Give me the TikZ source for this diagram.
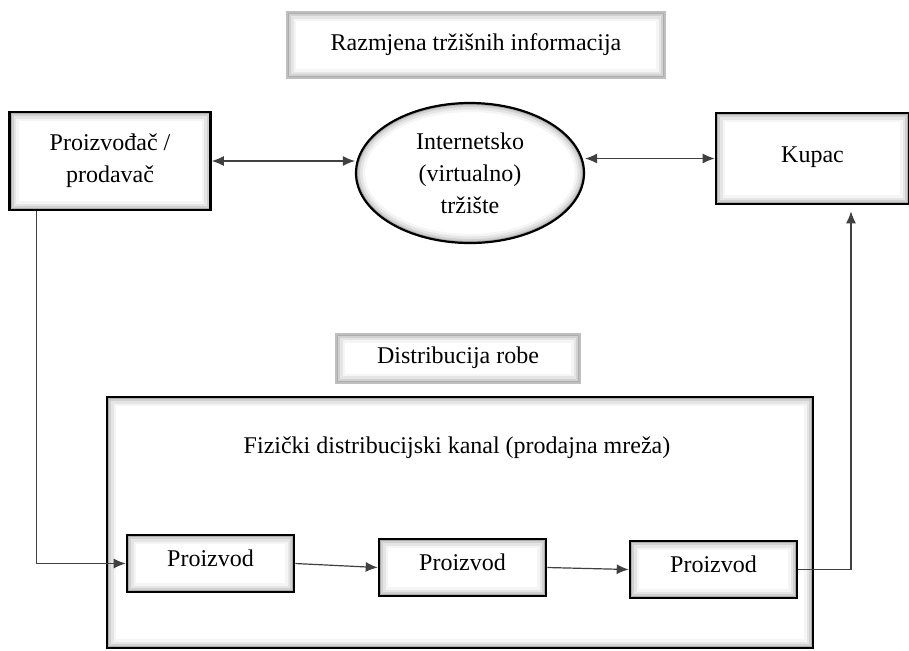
\documentclass[tikz,border=0pt]{standalone}
\usepackage{fontspec}
\setmainfont{Liberation Serif}
\usetikzlibrary{shapes.geometric,arrows.meta}

\tikzstyle{glow} = [path picture={
	\draw[black!4, line width=9pt] (path picture bounding box.south west) rectangle (path picture bounding box.north east);
	\draw[black!10, line width=6.5pt] (path picture bounding box.south west) rectangle (path picture bounding box.north east);
	\draw[black!18, line width=4pt] (path picture bounding box.south west) rectangle (path picture bounding box.north east);
	\draw[black!32, line width=2pt] (path picture bounding box.south west) rectangle (path picture bounding box.north east);
	}]
\tikzstyle{ovalglow} = [path picture={
	\draw[black!4, line width=9pt] (path picture bounding box.center) ellipse [x radius=57pt, y radius=35pt];
	\draw[black!10, line width=6.5pt] (path picture bounding box.center) ellipse [x radius=57pt, y radius=35pt];
	\draw[black!18, line width=4pt] (path picture bounding box.center) ellipse [x radius=57pt, y radius=35pt];
	\draw[black!32, line width=2pt] (path picture bounding box.center) ellipse [x radius=57pt, y radius=35pt];
	}]
\tikzstyle{box} = [rectangle, draw=black, line width=1.3pt, fill=white, glow, align=center]
\tikzstyle{tag} = [rectangle, draw=black!25, line width=1pt, fill=white, glow]
\tikzstyle{oval} = [ellipse, draw=black, line width=1.1pt, fill=white, ovalglow, align=center,
	minimum width=114pt, minimum height=70pt]
\tikzstyle{item} = [box, minimum width=83.5pt, minimum height=28.5pt, text depth=5pt]
\tikzstyle{link} = [draw=black!75, line width=0.6pt, -{Latex[length=6pt,width=5pt]}]
\tikzstyle{both} = [draw=black!75, line width=0.6pt, {Latex[length=6pt,width=5pt]}-{Latex[length=6pt,width=5pt]}]

\begin{document}
\begin{tikzpicture}[x=0.5pt, y=-0.5pt, font=\fontsize{12}{16}\selectfont]
\useasboundingbox (0,0) rectangle (909,650);

\node [tag, minimum width=189pt, minimum height=33pt] (info) at (476,45) {Razmjena tržišnih informacija};
\node [box, minimum width=100.5pt, minimum height=49pt] (seller) at (110,161) {Proizvođač /\\ prodavač};
\node [oval] (market) at (470,173) {Internetsko\\ (virtualno)\\ tržište};
\node [box, minimum width=96.5pt, minimum height=45.5pt, text depth=4pt] (buyer) at (812.5,158.5) {Kupac};

\node [tag, minimum width=122pt, minimum height=24.5pt] (goods) at (458,358) {Distribucija robe};
\node [box, minimum width=353pt, minimum height=125.5pt] (channel) at (460,522.5) {};
\node (channeltxt) at (457,448) {Fizički distribucijski kanal (prodajna mreža)};

\node [item] (prod1) at (210.5,563.5) {Proizvod};
\node [item] (prod2) at (462.5,567.5) {Proizvod};
\node [item] (prod3) at (713.5,569.5) {Proizvod};

% connectors
\draw [both] (seller.east) -- (seller.east -| market.west);
\draw [both] (buyer.west -| market.east) -- (buyer.west);
\draw [link] ([xshift=14pt]seller.south west) |- (prod1.west);
\draw [link] (prod1.east) -- (prod2.west);
\draw [link] (prod2.east) -- (prod3.west);
\draw [link] (prod3.east) -| ([xshift=19.25pt,yshift=-3pt]buyer.south);
\end{tikzpicture}
\end{document}
